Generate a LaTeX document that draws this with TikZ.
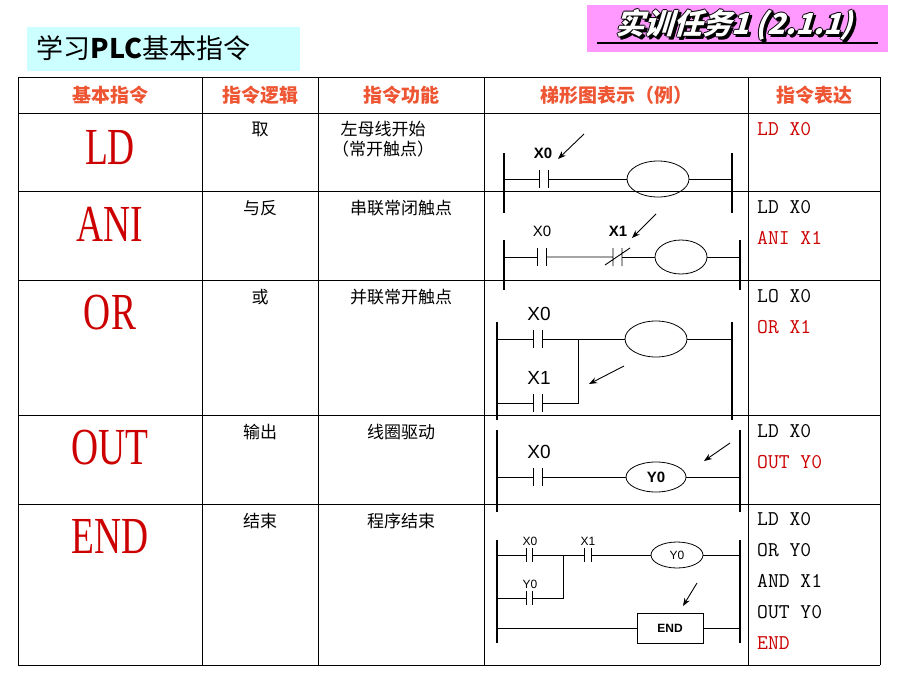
\documentclass[tikz,border=0pt]{standalone}
\usepackage{fontspec}
\setmainfont{Liberation Sans}
\newfontfamily\cjk{Noto Sans CJK SC}
\newfontfamily\bigserif{Liberation Serif}
\usetikzlibrary{shapes.geometric,arrows.meta}
\definecolor{instred}{HTML}{CC0000}
\definecolor{headred}{HTML}{EE5533}
\definecolor{titlepink}{HTML}{FF99FF}
\definecolor{titlecyan}{HTML}{CCFFFF}
\tikzset{
  grid/.style={line width=0.9pt},
  rail/.style={line width=1.8pt},
  wire/.style={line width=0.9pt},
  coil/.style={ellipse,draw,line width=0.8pt,inner sep=0pt},
  pointer/.style={line width=0.9pt,-{Stealth[length=8pt,width=6pt]}},
  headtext/.style={font=\cjk\fontsize{19}{22}\selectfont\bfseries,text=headred},
  celltext/.style={font=\cjk\fontsize{17}{20}\selectfont,anchor=north},
  bigop/.style={font=\bigserif\fontsize{52}{56}\selectfont,text=instred,xscale=0.72},
  listing/.style={font=\ttfamily\fontsize{21}{31}\selectfont,anchor=north west,align=left,inner sep=0pt},
  tasktext/.style={font=\cjk\fontsize{29}{31}\selectfont\bfseries,xslant=0.3},
  lbl/.style={font=\fontsize{15}{16}\selectfont},
}
\begin{document}
\begin{tikzpicture}[x=1pt,y=-1pt]
  \useasboundingbox[fill=white] (0,0) rectangle (920,690);
  % Title boxes:
  \fill[titlepink] (587,5) rectangle (888,52);
  \foreach \dx/\dy in {-1.3/0,1.3/0,0/-1.3,0/1.3,2.5/2.5,3/2,2/3}
    \node[tasktext,text=black] at ([shift={(\dx,\dy)}]737,25) {实训任务1 (2.1.1)};
  \node[tasktext,text=white] (task) at (737,25) {实训任务1 (2.1.1)};
  \draw[line width=1.2pt] (597,43) -- (878,43);
  \fill[titlecyan] (27,27) rectangle (300,71);
  \node[font=\cjk\fontsize{27}{29}\selectfont,anchor=west] (topic) at (33,48) {学习\textbf{PLC}基本指令};
  % Table grid:
  \foreach \x in {18,202,318,484,748,880} \draw[grid] (\x,77) -- (\x,665);
  \foreach \y in {77,113,191,280,415,504,665} \draw[grid] (18,\y) -- (880,\y);
  % Header row:
  \node[headtext] (h1) at (110,95) {基本指令};
  \node[headtext] (h2) at (260,95) {指令逻辑};
  \node[headtext] (h3) at (401,95) {指令功能};
  \node[headtext] (h4) at (616,95) {梯形图表示（例）};
  \node[headtext] (h5) at (814,95) {指令表达};
  % Instruction names:
  \node[bigop] (LD)  at (110,148) {LD};
  \node[bigop] (ANI) at (110,224) {ANI};
  \node[bigop] (OR)  at (110,313) {OR};
  \node[bigop] (OUT) at (110,448) {OUT};
  \node[bigop] (END) at (110,537) {END};
  % Logic and function:
  \node[celltext] (l1) at (260,118) {取};
  \node[celltext] (l2) at (260,197) {与反};
  \node[celltext] (l3) at (260,286) {或};
  \node[celltext] (l4) at (260,421) {输出};
  \node[celltext] (l5) at (260,510) {结束};
  \node[celltext,align=center] (f1) at (383,118) {左母线开始\\（常开触点）};
  \node[celltext] (f2) at (401,197) {串联常闭触点};
  \node[celltext] (f3) at (401,286) {并联常开触点};
  \node[celltext] (f4) at (401,421) {线圈驱动};
  \node[celltext] (f5) at (401,510) {程序结束};
  % Instruction lists:
  \node[listing] (p1) at (757,122) {\textcolor{instred}{LD X0}};
  \node[listing] (p2) at (757,200) {LD X0\\\textcolor{instred}{ANI X1}};
  \node[listing] (p3) at (757,289) {LO X0\\\textcolor{instred}{OR X1}};
  \node[listing] (p4) at (757,424) {LD X0\\\textcolor{instred}{OUT Y0}};
  \node[listing] (p5) at (757,512) {LD X0\\OR Y0\\AND X1\\OUT Y0\\\textcolor{instred}{END}};
  % Ladder LD:
  \draw[rail] (504,153) -- (504,213);
  \draw[rail] (732,153) -- (732,213);
  \node[coil,minimum width=62,minimum height=36] (c1) at (658,179) {};
  \draw[wire] (504,179) -- (539,179) (539,170) -- (539,188) (548,170) -- (548,188);
  \draw[wire] (548,179) -- (c1.west) (c1.east) -- (732,179);
  \node[lbl,font=\fontsize{15}{16}\selectfont\bfseries] (x0a) at (543,153) {X0};
  \coordinate (a1) at (584,134); \coordinate (a1e) at (558,159);
  \draw[pointer] (a1) -- (a1e);
  % Ladder ANI:
  \draw[rail] (504,240) -- (504,290);
  \draw[rail] (740,240) -- (740,290);
  \node[coil,minimum width=52,minimum height=34] (c2) at (681,257) {};
  \draw[wire] (504,257) -- (537,257) (537,248) -- (537,266) (546,248) -- (546,266);
  \draw[wire] (546,257) -- (613,257) (613,248) -- (613,266) (622,248) -- (622,266) (605,265) -- (630,248);
  \draw[wire] (622,257) -- (c2.west) (c2.east) -- (740,257);
  \node[lbl] (x0b) at (542,231) {X0};
  \node[lbl,font=\fontsize{15}{16}\selectfont\bfseries] (x1b) at (618,231) {X1};
  \coordinate (a2) at (656,214); \coordinate (a2e) at (632,238);
  \draw[pointer] (a2) -- (a2e);
  % Ladder OR:
  \draw[rail] (497,322) -- (497,420);
  \draw[rail] (732,322) -- (732,420);
  \node[coil,minimum width=62,minimum height=36] (c3) at (656,339) {};
  \draw[wire] (497,339) -- (533,339) (533,330) -- (533,348) (542,330) -- (542,348);
  \draw[wire] (542,339) -- (c3.west) (c3.east) -- (732,339);
  \draw[wire] (497,403) -- (533,403) (533,394) -- (533,412) (542,394) -- (542,412);
  \draw[wire] (542,403) -- (578,403) -- (578,339);
  \node[lbl,font=\fontsize{19}{20}\selectfont] (x0c) at (539,314) {X0};
  \node[lbl,font=\fontsize{19}{20}\selectfont] (x1c) at (539,378) {X1};
  \coordinate (a3) at (624,366); \coordinate (a3e) at (589,384);
  \draw[pointer] (a3) -- (a3e);
  % Ladder OUT:
  \draw[rail] (497,430) -- (497,512);
  \draw[rail] (740,430) -- (740,512);
  \node[coil,minimum width=60,minimum height=30,font=\fontsize{15}{16}\selectfont\bfseries] (c4) at (656,477) {Y0};
  \draw[wire] (497,477) -- (533,477) (533,468) -- (533,486) (542,468) -- (542,486);
  \draw[wire] (542,477) -- (c4.west) (c4.east) -- (740,477);
  \node[lbl,font=\fontsize{19}{20}\selectfont] (x0d) at (539,452) {X0};
  \coordinate (a4) at (730,443); \coordinate (a4e) at (704,461);
  \draw[pointer] (a4) -- (a4e);
  % Ladder END:
  \draw[rail] (497,540) -- (497,643);
  \draw[rail] (740,540) -- (740,643);
  \node[coil,minimum width=52,minimum height=26,font=\fontsize{12}{13}\selectfont] (c5) at (677,555) {Y0};
  \node[draw,line width=0.8pt,minimum width=66,minimum height=30,font=\fontsize{12}{13}\selectfont\bfseries] (e5) at (670,628) {END};
  \draw[wire] (497,555) -- (526,555) (526,548) -- (526,562) (532,548) -- (532,562);
  \draw[wire] (532,555) -- (584,555) (584,548) -- (584,562) (591,548) -- (591,562);
  \draw[wire] (591,555) -- (c5.west) (c5.east) -- (740,555);
  \draw[wire] (497,598) -- (526,598) (526,591) -- (526,605) (532,591) -- (532,605);
  \draw[wire] (532,598) -- (563,598) -- (563,555);
  \draw[wire] (497,628) -- (e5.west) (e5.east) -- (740,628);
  \node[lbl,font=\fontsize{12}{13}\selectfont] (x0e) at (530,541) {X0};
  \node[lbl,font=\fontsize{12}{13}\selectfont] (x1e) at (588,541) {X1};
  \node[lbl,font=\fontsize{12}{13}\selectfont] (y0e) at (530,584) {Y0};
  \coordinate (a5) at (697,583); \coordinate (a5e) at (683,606);
  \draw[pointer] (a5) -- (a5e);
\end{tikzpicture}
\end{document}
